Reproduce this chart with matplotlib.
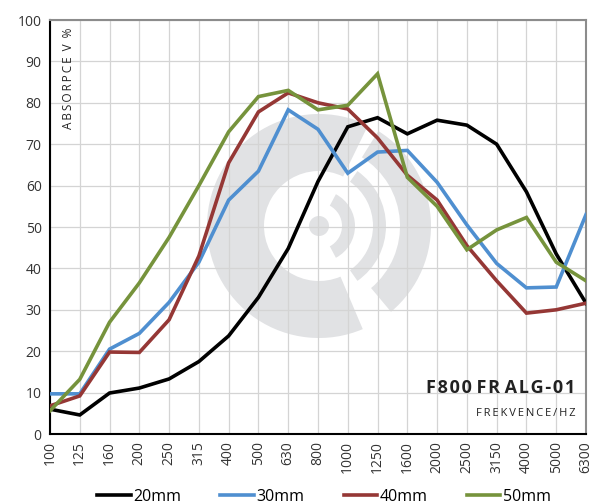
import matplotlib
matplotlib.use("Agg")
import matplotlib.pyplot as plt
from matplotlib.patches import Wedge, Circle
from matplotlib.transforms import IdentityTransform

plt.rcParams["font.family"] = ["Open Sans", "DejaVu Sans"]

# ---------------------------------------------------------------------------
#  data
# ---------------------------------------------------------------------------
freqs = ["100", "125", "160", "200", "250", "315", "400", "500", "630", "800",
         "1000", "1250", "1600", "2000", "2500", "3150", "4000", "5000", "6300"]

abs_20mm = [6.0, 4.6, 9.9, 11.1, 13.3, 17.5, 23.7, 33.0, 44.8, 61.0,
            74.2, 76.4, 72.5, 75.8, 74.6, 70.0, 58.5, 43.5, 31.6]
abs_30mm = [9.7, 9.7, 20.5, 24.3, 31.8, 41.5, 56.5, 63.5, 78.3, 73.6,
            63.0, 68.1, 68.5, 60.8, 50.5, 41.2, 35.3, 35.5, 53.0]
abs_40mm = [6.8, 9.2, 19.8, 19.7, 27.6, 43.0, 65.5, 77.8, 82.4, 80.0,
            78.5, 71.5, 62.5, 56.5, 45.5, 37.0, 29.2, 30.0, 31.6]
abs_50mm = [5.6, 13.2, 27.0, 36.5, 47.5, 60.0, 73.0, 81.5, 83.0, 78.3,
            79.4, 87.0, 62.0, 55.0, 44.5, 49.3, 52.3, 41.5, 37.0]

series = [
    ("20mm", abs_20mm, "#000000"),
    ("30mm", abs_30mm, "#4f8fd0"),
    ("40mm", abs_40mm, "#953735"),
    ("50mm", abs_50mm, "#76933c"),
]

# ---------------------------------------------------------------------------
#  figure
# ---------------------------------------------------------------------------
W, H = 601, 504
fig = plt.figure(figsize=(W / 100, H / 100), dpi=100)
ax = fig.add_axes([50 / W, 1 - 434 / H, 536 / W, 414 / H])

x = list(range(len(freqs)))
for name, vals, col in series:
    ax.plot(x, vals, color=col, lw=2.6, label=name, zorder=3,
            solid_joinstyle="miter")

ax.set_xlim(0, len(freqs) - 1)
ax.set_ylim(0, 100)
ax.set_xticks(x)
ax.set_xticklabels(freqs, rotation=90)
ax.set_yticks(range(0, 101, 10))
ax.tick_params(length=0, labelsize=10, colors="#333333", pad=6)
ax.tick_params(axis="x", pad=5)
ax.set_axisbelow(True)
ax.grid(True, color="#d4d4d4", lw=0.9)

for side in ("left", "bottom"):
    ax.spines[side].set_color("black")
    ax.spines[side].set_linewidth(1.5)
for side in ("top", "right"):
    ax.spines[side].set_color("#8c8c8c")
    ax.spines[side].set_linewidth(1.5)

# watermark logo (pixel coordinates, behind the grid)
cx, cy = 319, H - 226
grey = "#e1e2e4"
tr = IdentityTransform()
logo = [
    Wedge((cx, cy), 112, 64, 293, width=57),
    Wedge((cx, cy), 112, -50, 58, width=31),
    Wedge((cx, cy), 67, -55, 55, width=13),
    Wedge((cx, cy), 36, -62, 62, width=13),
    Circle((cx, cy), 10),
]
for p in logo:
    p.set_transform(tr)
    p.set_facecolor(grey)
    p.set_edgecolor("none")
    p.set_zorder(0.2)
    ax.add_artist(p)

# labels inside the plot
ts = "\u2009"
hs = "\u200a"
fig.text(68 / W, 1 - 28 / H, ts.join("ABSORPCE") + "  V  %", rotation=90,
         ha="center", va="top", fontsize=8.5, color="#222222")
fig.text(575 / W, 1 - 388 / H, " ".join(hs.join(w) for w in ["F800", "FR", "ALG-01"]),
         ha="right", va="center", fontsize=13, fontweight="bold", color="#222222")
fig.text(575 / W, 1 - 413 / H, ts.join("FREKVENCE/HZ"), ha="right",
         va="center", fontsize=8, color="#222222")

fig.legend(loc="center", bbox_to_anchor=(324 / W, 1 - 497 / H), ncol=4,
           frameon=False, fontsize=11.5, handlelength=2.1, handletextpad=0.15,
           columnspacing=2.45, borderaxespad=0, borderpad=0)

fig.savefig("out.png", dpi=100)
